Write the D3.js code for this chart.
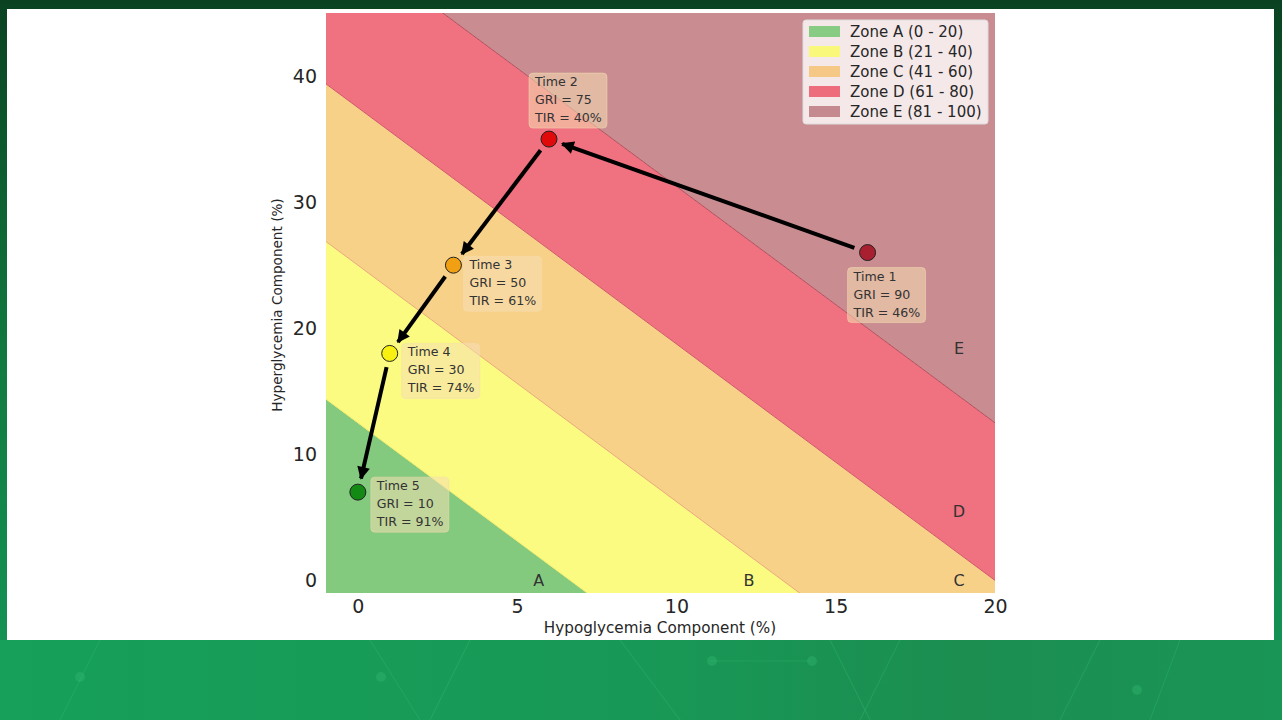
<!DOCTYPE html>
<html><head><meta charset="utf-8">
<script src="https://cdn.jsdelivr.net/npm/d3@7"></script>
<style>body{margin:0;padding:0;overflow:hidden;background:#0d5a2e}svg{display:block}</style>
</head><body>
<svg id="c" width="1282" height="720"></svg>
<script>
// ---- data ----
const zoneNames = ["Zone A (0 - 20)","Zone B (21 - 40)","Zone C (41 - 60)","Zone D (61 - 80)","Zone E (81 - 100)"];
const zoneLetters = ["A","B","C","D","E"];
const zoneLo = [-1000, 20, 40, 60, 80];
const zoneHi = [20, 40, 60, 80, 1000];
const letterX = [5.68, 12.28, 18.87, 18.87, 18.87];
const letterY = [0, 0, 0, 5.48, 18.4];
const timeLabels = ["Time 1","Time 2","Time 3","Time 4","Time 5"];
const hypo = [16, 6, 3, 1, 0];
const hyper = [26, 35, 25, 18, 7];
const gri = [90, 75, 50, 30, 10];
const tir = [46, 40, 61, 74, 91];
const xTicks = [0, 5, 10, 15, 20];
const yTicks = [0, 10, 20, 30, 40];

// ---- styles ----
const zoneFill = ["#83ca7f","#fafb80","#f8d189","#f0717f","#c98d91"];
const zoneLegend = ["#7cc878","#f9fa6e","#f5c57a","#ec5f70","#c07f86"];
const lineCol = ["#9fd36a","#f2ea6a","#e9a878","#d25a6a","#b0505e"];
const markerCol = ["#a81f30","#e00a0a","#f0a012","#f8f010","#128a14"];
// label box offsets (px) relative to point: [dx,dy] for box top-left
const boxOff = [[-20,15],[-20,-66],[10,-9],[12,-10],[13,-15]];

const svg = d3.select("#c");
const defs = svg.append("defs");
const bg = defs.append("linearGradient").attr("id","bg").attr("x1",0).attr("y1",0).attr("x2",0).attr("y2",1);
bg.append("stop").attr("offset","0").attr("stop-color","#0a4221");
bg.append("stop").attr("offset","0.5").attr("stop-color","#117a40");
bg.append("stop").attr("offset","1").attr("stop-color","#15985a");
const bg2 = defs.append("linearGradient").attr("id","bg2").attr("x1",0).attr("y1",0).attr("x2",1).attr("y2",0);
bg2.append("stop").attr("offset","0").attr("stop-color","#16a05a");
bg2.append("stop").attr("offset","0.5").attr("stop-color","#189856");
bg2.append("stop").attr("offset","0.75").attr("stop-color","#1b8e50");
bg2.append("stop").attr("offset","1").attr("stop-color","#199556");
svg.append("rect").attr("width",1282).attr("height",720).attr("fill","url(#bg)");
svg.append("rect").attr("y",640).attr("width",1282).attr("height",80).attr("fill","url(#bg2)");
// faint decorative lines
const deco = svg.append("g").attr("stroke","#3cc07a").attr("stroke-opacity",0.25).attr("fill","none").attr("stroke-width",1.2);
[[100,640,60,720],[370,640,420,720],[470,640,430,720],[620,640,680,720],[830,640,870,720],[900,640,860,720],[1100,640,1060,720],[1180,640,1150,720],[710,661,810,661]].forEach(l=>deco.append("line").attr("x1",l[0]).attr("y1",l[1]).attr("x2",l[2]).attr("y2",l[3]));
[[80,677],[381,677],[712,661],[812,661],[1137,690]].forEach(c=>svg.append("circle").attr("cx",c[0]).attr("cy",c[1]).attr("r",5).attr("fill","#3cc07a").attr("fill-opacity",0.3));
svg.append("rect").attr("x",7).attr("y",9).attr("width",1267).attr("height",631).attr("fill","#ffffff");

const L = 326, R = 995, T = 13, B = 593;
const x = d3.scaleLinear().domain([-1,20]).range([L,R]);
const y = d3.scaleLinear().domain([-1,45]).range([B,T]);

defs.append("clipPath").attr("id","plot").append("rect").attr("x",L).attr("y",T).attr("width",R-L).attr("height",B-T);
const plot = svg.append("g").attr("clip-path","url(#plot)");

const lineAt = g => { const xs=[-10,40]; return xs.map(v=>[v,(g-3*v)/1.6]); };
zoneLo.forEach((lo,i)=>{
  const hi = zoneHi[i];
  const pts = lineAt(lo).concat(lineAt(hi).reverse());
  plot.append("path").attr("d", d3.line().x(d=>x(d[0])).y(d=>y(d[1]))(pts)+"Z").attr("fill",zoneFill[i]);
});
[20,40,60,80].forEach((g,i)=>{
  plot.append("path").attr("d", d3.line().x(d=>x(d[0])).y(d=>y(d[1]))(lineAt(g)))
    .attr("stroke",lineCol[i+1]).attr("stroke-width",1).attr("fill","none");
});

// zone letters
zoneLetters.forEach((t,i)=>{
  svg.append("text").attr("x",x(letterX[i])).attr("y",y(letterY[i])).attr("dy","0.36em")
    .attr("text-anchor","middle").attr("font-family","DejaVu Sans").attr("font-size",16).attr("fill","#333").text(t);
});

// axes
const xa = svg.append("g").attr("transform",`translate(0,${B})`).call(d3.axisBottom(x).tickValues(xTicks).tickSize(0).tickPadding(7));
const ya = svg.append("g").attr("transform",`translate(${L},0)`).call(d3.axisLeft(y).tickValues(yTicks).tickSize(0).tickPadding(9));
[xa,ya].forEach(a=>{a.select(".domain").remove();a.selectAll("text").attr("font-family","DejaVu Sans").attr("font-size",19).attr("fill","#262626");});
svg.append("text").attr("x",660).attr("y",633).attr("text-anchor","middle").attr("font-family","DejaVu Sans").attr("font-size",15.2).attr("fill","#262626").text("Hypoglycemia Component (%)");
svg.append("text").attr("transform",`translate(282,305) rotate(-90)`).attr("text-anchor","middle").attr("font-family","DejaVu Sans").attr("font-size",13.6).attr("fill","#262626").text("Hyperglycemia Component (%)");

// arrows
defs.append("marker").attr("id","ah").attr("viewBox","0 0 10 10").attr("refX",9).attr("refY",5)
  .attr("markerWidth",3.6).attr("markerHeight",3.2).attr("markerUnits","strokeWidth").attr("orient","auto")
  .append("path").attr("d","M0,0 L10,5 L0,10 Z").attr("fill","#000");
for(let i=0;i<hypo.length-1;i++){
  const x1=x(hypo[i]),y1=y(hyper[i]),x2=x(hypo[i+1]),y2=y(hyper[i+1]);
  const dx=x2-x1,dy=y2-y1,d=Math.hypot(dx,dy),ux=dx/d,uy=dy/d;
  svg.append("line").attr("x1",x1+ux*14).attr("y1",y1+uy*14).attr("x2",x2-ux*14).attr("y2",y2-uy*14)
    .attr("stroke","#000").attr("stroke-width",4).attr("marker-end","url(#ah)");
}

// points
hypo.forEach((h,i)=>{
  svg.append("circle").attr("cx",x(h)).attr("cy",y(hyper[i])).attr("r",8).attr("fill",markerCol[i]).attr("stroke","#222").attr("stroke-width",1);
});

// labels
hypo.forEach((h,i)=>{
  const bx=x(h)+boxOff[i][0], by=y(hyper[i])+boxOff[i][1];
  const g=svg.append("g").attr("transform",`translate(${bx},${by})`);
  g.append("rect").attr("width",78).attr("height",55).attr("rx",4).attr("fill","#f5deb3").attr("fill-opacity",0.55).attr("stroke","#f5deb3").attr("stroke-opacity",0.5);
  [timeLabels[i],`GRI = ${gri[i]}`,`TIR = ${tir[i]}%`].forEach((t,k)=>{
    g.append("text").attr("x",6).attr("y",13+k*18).attr("font-family","DejaVu Sans").attr("font-size",12.6).attr("fill","#333").text(t);
  });
});

// legend
const lg = svg.append("g").attr("transform","translate(803,20)");
lg.append("rect").attr("width",185).attr("height",104).attr("rx",3).attr("fill","#ffffff").attr("fill-opacity",0.8).attr("stroke","#dddddd");
zoneNames.forEach((n,i)=>{
  lg.append("rect").attr("x",6).attr("y",6+i*20).attr("width",31).attr("height",11).attr("fill",zoneLegend[i]).attr("fill-opacity",0.9);
  lg.append("text").attr("x",47).attr("y",11.5+i*20).attr("dy","0.36em").attr("font-family","DejaVu Sans").attr("font-size",15).attr("fill","#262626").text(n);
});
</script>
</body></html>
